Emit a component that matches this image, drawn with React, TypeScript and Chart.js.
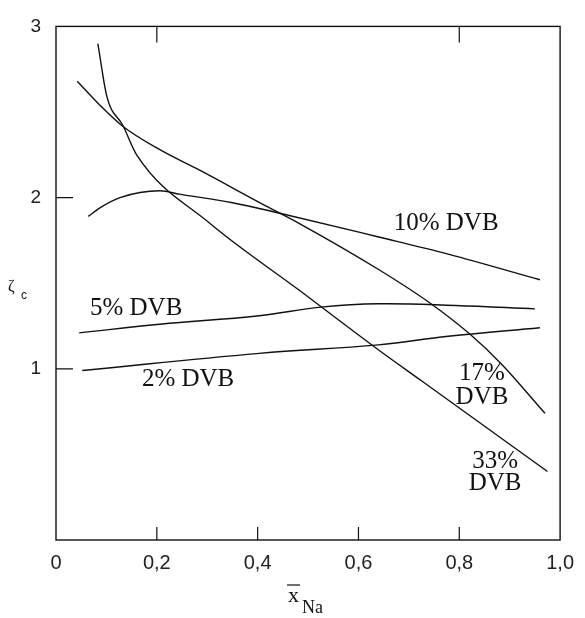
import React, { useEffect, useRef } from "react";
import { Chart, registerables } from "chart.js";

Chart.register(...registerables);

// ---- data (x = mole fraction, y = zeta_c) ----
const dvb33X = [0.083, 0.101, 0.133, 0.16, 0.305, 0.482, 0.64, 0.725, 0.975];
const dvb33Y = [2.9, 2.59, 2.42, 2.25, 1.85, 1.46, 1.11, 0.93, 0.4];

const dvb17X = [0.042, 0.087, 0.131, 0.206, 0.285, 0.417, 0.482, 0.64, 0.739, 0.822, 0.883, 0.97];
const dvb17Y = [2.68, 2.54, 2.42, 2.28, 2.16, 1.95, 1.85, 1.58, 1.39, 1.2, 1.03, 0.74];

const dvb10X = [0.064, 0.087, 0.127, 0.206, 0.245, 0.35, 0.442, 0.64, 0.778, 0.96];
const dvb10Y = [1.89, 1.94, 2.0, 2.04, 2.02, 1.97, 1.91, 1.77, 1.67, 1.52];

const dvb5X = [0.046, 0.206, 0.403, 0.525, 0.64, 0.792, 0.95];
const dvb5Y = [1.21, 1.26, 1.31, 1.36, 1.38, 1.37, 1.35];

const dvb2X = [0.052, 0.403, 0.64, 0.778, 0.96];
const dvb2Y = [0.99, 1.09, 1.14, 1.19, 1.24];

const xTickLabels = ["0", "0,2", "0,4", "0,6", "0,8", "1,0"];
const yTickValues = [1, 2, 3];

const bottomInnerTicks = [0.2, 0.4, 0.6, 0.8];
const topInnerTicks = [0.2, 0.8];
const leftInnerTicks = [1, 2];

// curve labels (anchored in data units)
const labelLines = [["10% DVB"], ["5% DVB"], ["2% DVB"], ["17%", "DVB"], ["33%", "DVB"]];
const labelX = [0.774, 0.159, 0.262, 0.845, 0.871];
const labelY = [[1.85], [1.35], [0.94], [0.97, 0.83], [0.46, 0.33]];

const toPoints = (xs: number[], ys: number[]) => xs.map((x, i) => ({ x, y: ys[i] }));

const INK = "#111";
const SERIF = "'Liberation Serif', 'DejaVu Serif', serif";
const SANS = "'Liberation Sans', 'DejaVu Sans', sans-serif";

const framePlugin = {
  id: "frameAndLabels",
  afterDatasetsDraw(chart: any) {
    const { ctx, chartArea, scales } = chart;
    const xs = scales.x;
    const ys = scales.y;
    const { left, right, top, bottom } = chartArea;
    ctx.save();
    ctx.strokeStyle = INK;
    ctx.lineWidth = 1.4;
    ctx.strokeRect(left, top, right - left, bottom - top);
    ctx.lineWidth = 1.2;
    ctx.beginPath();
    bottomInnerTicks.forEach((v) => {
      const px = xs.getPixelForValue(v);
      ctx.moveTo(px, bottom);
      ctx.lineTo(px, bottom - 13);
    });
    topInnerTicks.forEach((v) => {
      const px = xs.getPixelForValue(v);
      ctx.moveTo(px, top);
      ctx.lineTo(px, top + 16);
    });
    leftInnerTicks.forEach((v) => {
      const py = ys.getPixelForValue(v);
      ctx.moveTo(left, py);
      ctx.lineTo(left + 17, py);
    });
    ctx.stroke();

    // curve labels
    ctx.fillStyle = INK;
    ctx.font = `25px ${SERIF}`;
    ctx.textAlign = "center";
    ctx.textBaseline = "middle";
    labelLines.forEach((lines, i) => {
      lines.forEach((t, j) => {
        ctx.fillText(t, xs.getPixelForValue(labelX[i]), ys.getPixelForValue(labelY[i][j]));
      });
    });

    // y axis title: zeta_c
    const midY = (top + bottom) / 2;
    ctx.textAlign = "left";
    ctx.textBaseline = "alphabetic";
    ctx.font = `16px ${SERIF}`;
    ctx.fillText("ζ", left - 48, midY + 8);
    ctx.font = `12px ${SANS}`;
    ctx.fillText("c", left - 35, midY + 16);

    // x axis title: x-bar Na
    const midX = (left + right) / 2;
    ctx.font = `22px ${SERIF}`;
    const xw = ctx.measureText("x").width;
    const xl = midX - 20;
    ctx.fillText("x", xl, bottom + 62);
    ctx.beginPath();
    ctx.lineWidth = 1.2;
    ctx.moveTo(xl - 1, bottom + 45);
    ctx.lineTo(xl + xw + 1, bottom + 45);
    ctx.stroke();
    ctx.font = `18px ${SERIF}`;
    ctx.fillText("Na", xl + xw + 3, bottom + 73);
    ctx.restore();
  },
};

export default function App() {
  const ref = useRef<HTMLCanvasElement | null>(null);
  useEffect(() => {
    if (!ref.current) return;
    const mk = (xs: number[], ys: number[], smooth: "monotone" | "spline") => ({
      data: toPoints(xs, ys),
      borderColor: INK,
      borderWidth: 1.4,
      pointRadius: 0,
      fill: false,
      ...(smooth === "monotone"
        ? { cubicInterpolationMode: "monotone" as const }
        : { tension: 0.4 }),
    });
    const chart = new Chart(ref.current, {
      type: "line",
      data: {
        datasets: [
          mk(dvb33X, dvb33Y, "monotone"),
          mk(dvb17X, dvb17Y, "monotone"),
          mk(dvb10X, dvb10Y, "monotone"),
          mk(dvb5X, dvb5Y, "spline"),
          mk(dvb2X, dvb2Y, "spline"),
        ],
      },
      options: {
        animation: false,
        responsive: false,
        maintainAspectRatio: false,
        layout: { padding: { top: 16, right: 23, left: 0, bottom: 0 } },
        plugins: { legend: { display: false }, tooltip: { enabled: false } },
        scales: {
          x: {
            type: "linear",
            min: 0,
            max: 1,
            grid: { display: false, drawTicks: false },
            border: { display: false },
            afterFit: (s: any) => {
              s.height = 78;
            },
            ticks: {
              stepSize: 0.2,
              autoSkip: false,
              maxRotation: 0,
              padding: 11,
              color: "#222",
              font: { family: SANS, size: 20 },
              callback: (_v: any, i: number) => xTickLabels[i] ?? "",
            },
          },
          y: {
            type: "linear",
            min: 0,
            max: 3,
            grid: { display: false, drawTicks: false },
            border: { display: false },
            afterFit: (s: any) => {
              s.width = 56;
            },
            ticks: {
              stepSize: 1,
              padding: 15,
              color: "#222",
              font: { family: SANS, size: 19 },
              callback: (v: any) => (yTickValues.includes(Number(v)) ? String(v) : ""),
            },
          },
        },
      },
      plugins: [framePlugin],
    });
    return () => chart.destroy();
  }, []);
  return (
    <div style={{ position: "fixed", left: 0, top: 0, width: 585, height: 618, background: "#fff" }}>
      <canvas ref={ref} width={585} height={618} style={{ display: "block" }} />
    </div>
  );
}
